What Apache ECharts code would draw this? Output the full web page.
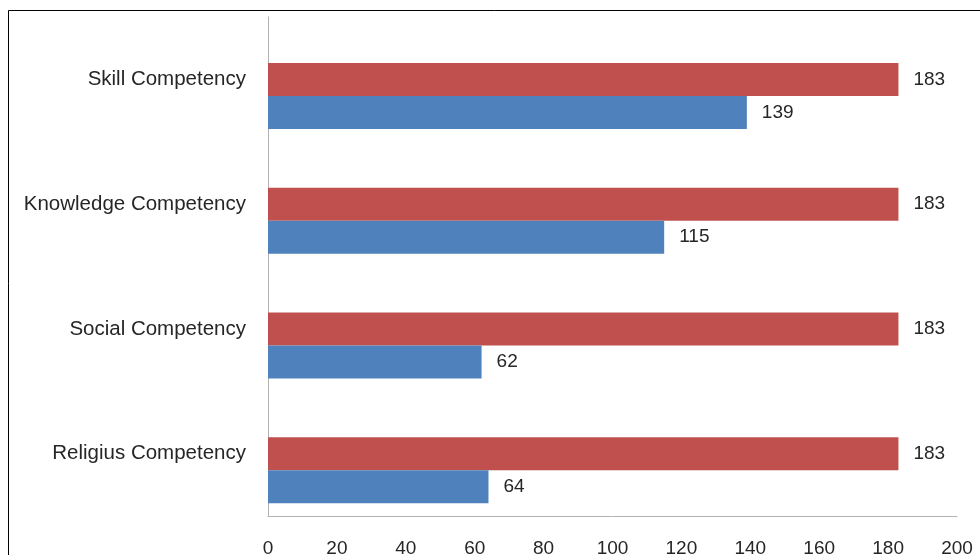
<!DOCTYPE html>
<html>
<head>
<meta charset="utf-8">
<script src="https://cdn.jsdelivr.net/npm/echarts@6/dist/echarts.min.js"></script>
<style>
  html, body { margin: 0; padding: 0; background: #fff; }
  #main { width: 980px; height: 555px; }
</style>
</head>
<body>
<div id="main"></div>
<script>
// categories bottom to top, like the picture
const categories = ['Religius Competency', 'Social Competency', 'Knowledge Competency', 'Skill Competency']
const redValues = [183, 183, 183, 183]
const blueValues = [64, 62, 115, 139]
const emptyValues = [null, null, null, null]
const xTicks = { min: 0, max: 200, interval: 20 }

const chart = echarts.init(document.getElementById('main'))
const font = 'Liberation Sans, Arial, sans-serif'
const textColor = '#262626'
const valueLabel = {
  show: true,
  position: 'right',
  distance: 15,
  fontSize: 19,
  fontFamily: font,
  color: textColor
}

const option = {
  animation: false,
  graphic: [
    {
      type: 'rect',
      shape: { x: 8.5, y: 10.5, width: 1100, height: 1000 },
      style: { fill: 'none', stroke: '#000', lineWidth: 1 },
      silent: true
    }
  ],
  grid: { left: 268, right: 23, top: 17, bottom: 39, outerBoundsMode: 'none', containLabel: false },
  xAxis: {
    type: 'value',
    min: xTicks.min,
    max: xTicks.max,
    interval: xTicks.interval,
    axisLine: { show: true, lineStyle: { color: '#b3b3b3', width: 1 } },
    axisTick: { show: false },
    splitLine: { show: false },
    axisLabel: { fontSize: 19, fontFamily: font, color: textColor, margin: 23 }
  },
  yAxis: {
    type: 'category',
    data: categories,
    axisLine: { show: true, lineStyle: { color: '#b3b3b3', width: 1 } },
    axisTick: { show: false },
    axisLabel: { fontSize: 20.5, fontFamily: font, color: textColor, margin: 22 }
  },
  series: [
    {
      // empty third slot, Excel keeps room for it
      name: 'empty',
      type: 'bar',
      data: emptyValues,
      barWidth: 33,
      barGap: '0%'
    },
    {
      name: 'red',
      type: 'bar',
      data: redValues,
      barWidth: 33,
      barGap: '0%',
      itemStyle: { color: '#c0504d' },
      label: valueLabel
    },
    {
      name: 'blue',
      type: 'bar',
      data: blueValues,
      barWidth: 33,
      barGap: '0%',
      itemStyle: { color: '#4f81bd' },
      label: valueLabel
    }
  ]
}
chart.setOption(option)
</script>
</body>
</html>
